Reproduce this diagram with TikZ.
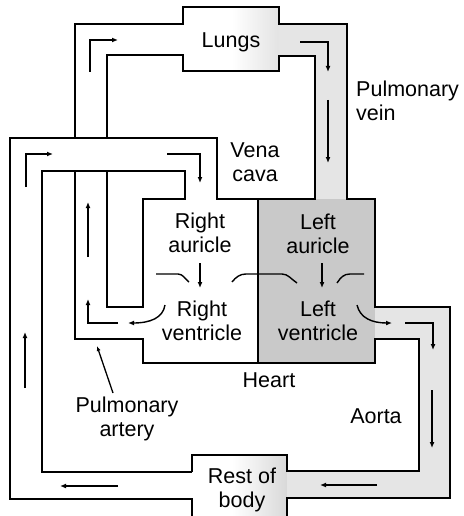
\documentclass[tikz,border=0pt]{standalone}
\usepackage{fontspec}
\setmainfont{Liberation Sans}
\usetikzlibrary{arrows.meta}
\begin{document}
\begin{tikzpicture}[x=1pt,y=-1pt,
  wall/.style={line width=2pt,line join=miter},
  flow/.style={line width=1.4pt,-{Latex[length=6pt,width=5pt]}},
  valve/.style={line width=1.4pt},
  lbl/.style={inner sep=0pt,align=center,font=\fontsize{21.5}{24}\selectfont},
  oxy/.style={fill=gray!20},
  oxyheart/.style={fill=gray!42}]
\useasboundingbox (0,0) rectangle (463,516);
% shaded regions (oxygenated blood)
\shade[left color=white,right color=gray!22] (232,7) rectangle (279,71);
\shade[left color=white,right color=gray!30] (232,455) rectangle (287,516);
\path[oxy] (279,24) -- (347,24) -- (347,199) -- (315,199) -- (315,56) -- (279,56) -- cycle;
\path[oxy] (375,307) -- (450,307) -- (450,498) -- (287,498) -- (287,471) -- (419,471) -- (419,339) -- (375,339) -- cycle;
\path[oxyheart] (258,199) rectangle (375,363);
% walls
\draw[wall] (75,138) -- (75,24) -- (183,24) -- (183,7) -- (279,7) -- (279,24) -- (347,24)
  -- (347,199) -- (375,199) -- (375,307) -- (450,307) -- (450,498) -- (287,498) -- (287,516);
\draw[wall] (107,138) -- (107,55) -- (183,55) -- (183,71) -- (279,71) -- (279,56) -- (315,56)
  -- (315,199) -- (217,199) -- (217,138) -- (10,138) -- (10,499) -- (192,499) -- (192,516);
\draw[wall] (192,472) -- (42,472) -- (42,171) -- (185,171) -- (185,199) -- (143,199)
  -- (143,307) -- (107,307) -- (107,171);
\draw[wall] (75,171) -- (75,339) -- (143,339) -- (143,363) -- (375,363) -- (375,339)
  -- (419,339) -- (419,471) -- (287,471) -- (287,455) -- (192,455) -- (192,472);
\draw[wall] (258,199) -- (258,363);
% labels
\node[lbl,anchor=north] (lungs) at (231,33) {Lungs};
\node[lbl,anchor=north west,align=left] (pv) at (356,81) {Pulmonary\\vein};
\node[lbl,anchor=north] (vc) at (255,143) {Vena\\cava};
\node[lbl,anchor=north] (ra) at (200,213) {Right\\auricle};
\node[lbl,anchor=north] (la) at (318,214) {Left\\auricle};
\node[lbl,anchor=north] (rv) at (202,301) {Right\\ventricle};
\node[lbl,anchor=north] (lv) at (318,301) {Left\\ventricle};
\node[lbl,anchor=north] (heart) at (269,373) {Heart};
\node[lbl,anchor=north] (aorta) at (376,409) {Aorta};
\node[lbl,anchor=north] (pa) at (127,397) {Pulmonary\\artery};
\node[lbl,anchor=north] (rob) at (242,468) {Rest of\\body};
% pointer
\coordinate (patip) at (97,346);
\draw[line width=1.3pt,-{Latex[length=5pt,width=4pt]}] (pa.north) ++(-14,-4) -- (patip);
% flow arrows
\draw[flow] (90,72) -- (90,40) -- (118,40);
\draw[flow] (88,257) -- (88,202);
\draw[flow] (118,323) -- (88,323) -- (88,299);
\draw[flow] (165,305) .. controls (163,318) and (150,323) .. (128,323);
\draw[flow] (26,187) -- (26,154) -- (53,154);
\draw[flow] (167,154) -- (200,154) -- (200,183);
\draw[flow] (25,388) -- (25,332);
\draw[flow] (118,486) -- (60,486);
\draw[flow] (300,42) -- (328,42) -- (328,72);
\draw[flow] (328,100) -- (328,163);
\draw[flow] (200,263) -- (200,288);
\draw[flow] (322,263) -- (322,288);
\draw[flow] (357,305) .. controls (360,318) and (372,323) .. (392,323);
\draw[flow] (405,323) -- (433,323) -- (433,350);
\draw[flow] (432,390) -- (432,448);
\draw[flow] (377,485) -- (320,485);
% valves
\draw[valve] (156,274) -- (178,274) .. controls (183,274) and (185,279) .. (189,282);
\draw[valve] (232,282) .. controls (236,277) and (240,274) .. (246,274) -- (282,274)
  .. controls (288,274) and (291,279) .. (297,283);
\draw[valve] (337,283) .. controls (341,277) and (344,274) .. (350,274) -- (364,274);
\end{tikzpicture}
\end{document}
